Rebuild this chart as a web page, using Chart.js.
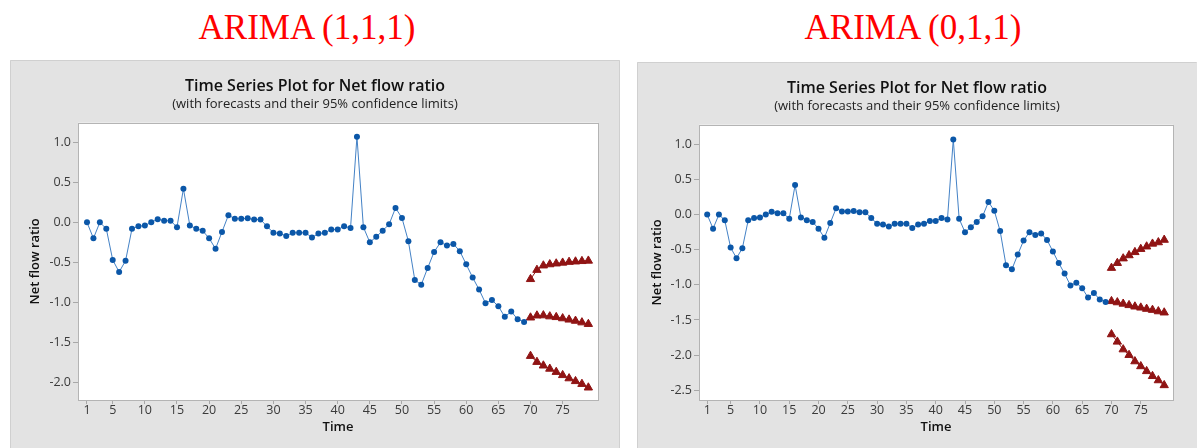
<!DOCTYPE html>
<html>
<head>
<meta charset="utf-8">
<script src="https://cdn.jsdelivr.net/npm/chart.js@4"></script>
<style>
  body { margin: 0; background: #fff; width: 1197px; height: 448px; overflow: hidden; position: relative; }
  .model { position: absolute; top: 10px; height: 40px; font: 35px "Liberation Serif", "Times New Roman", serif; line-height: 35px; color: #ff0000; text-align: center; }
  canvas { position: absolute; }
</style>
</head>
<body>
<div class="model" style="left:0;width:614px">ARIMA (1,1,1)</div>
<div class="model" style="left:637px;width:552px">ARIMA (0,1,1)</div>
<canvas id="chart111" width="610" height="388" style="left:10px;top:60px"></canvas>
<canvas id="chart011" width="560" height="386" style="left:637px;top:62px"></canvas>
<script>
// observed net flow ratio, time 1..69
const netFlow = [
  0.00, -0.20, 0.00, -0.08, -0.47, -0.62, -0.48, -0.08, -0.05, -0.04,
  0.00, 0.04, 0.02, 0.02, -0.06, 0.42, -0.04, -0.08, -0.105, -0.20,
  -0.33, -0.12, 0.09, 0.045, 0.045, 0.05, 0.035, 0.035, -0.05, -0.13,
  -0.14, -0.17, -0.13, -0.13, -0.13, -0.19, -0.14, -0.13, -0.09, -0.09,
  -0.05, -0.07, 1.07, -0.06, -0.25, -0.18, -0.105, -0.025, 0.18, 0.055,
  -0.235, -0.72, -0.78, -0.57, -0.37, -0.25, -0.29, -0.27, -0.36, -0.525,
  -0.69, -0.84, -1.01, -0.97, -1.05, -1.18, -1.115, -1.21, -1.245
];
const obsStart = 1;
const fcStart = 70;

// ARIMA (1,1,1)
const forecast111 = [-1.19, -1.165, -1.163, -1.176, -1.185, -1.2, -1.216, -1.231, -1.251, -1.271];
const upper111 = [-0.71, -0.595, -0.54, -0.525, -0.515, -0.505, -0.495, -0.49, -0.485, -0.48];
const lower111 = [-1.67, -1.745, -1.79, -1.83, -1.87, -1.91, -1.95, -1.985, -2.02, -2.065];

// ARIMA (0,1,1)
const forecast011 = [-1.233, -1.25, -1.27, -1.29, -1.31, -1.325, -1.343, -1.358, -1.378, -1.395];
const upper011 = [-0.76, -0.69, -0.625, -0.58, -0.535, -0.49, -0.455, -0.415, -0.395, -0.36];
const lower011 = [-1.705, -1.81, -1.92, -2.0, -2.09, -2.16, -2.23, -2.30, -2.36, -2.43];

const xTicks = [1, 5, 10, 15, 20, 25, 30, 35, 40, 45, 50, 55, 60, 65, 70, 75];
const yTicks111 = [-2.0, -1.5, -1.0, -0.5, 0.0, 0.5, 1.0];
const yTicks011 = [-2.5, -2.0, -1.5, -1.0, -0.5, 0.0, 0.5, 1.0];

const FONT = "'Open Sans', 'Noto Sans', sans-serif";
const dotBlue = '#0b57a8';
const lineBlue = '#4482c6';
const darkRed = '#901414';

// gray panel, white plot area and its frame
const panelFrame = {
  id: 'panelFrame',
  beforeDraw(chart, args, opts) {
    const { ctx, width, height, chartArea: a } = chart;
    ctx.save();
    ctx.fillStyle = '#e3e3e3';
    ctx.fillRect(0, 0, width, height);
    ctx.strokeStyle = '#d0d0d0';
    ctx.lineWidth = 1;
    ctx.beginPath();
    ctx.moveTo(0.5, height);
    ctx.lineTo(0.5, 0.5);
    ctx.lineTo(width - 0.5, 0.5);
    if (opts.rightEdge) ctx.lineTo(width - 0.5, height);
    ctx.stroke();
    ctx.fillStyle = '#fff';
    ctx.fillRect(a.left, a.top, a.right - a.left, a.bottom - a.top);
    ctx.restore();
  },
  afterDraw(chart) {
    const { ctx, chartArea: a } = chart;
    ctx.save();
    ctx.strokeStyle = '#b4b4b4';
    ctx.lineWidth = 1;
    ctx.strokeRect(Math.round(a.left) + 0.5, Math.round(a.top) + 0.5,
      Math.round(a.right - a.left), Math.round(a.bottom - a.top));
    ctx.restore();
  }
};

function redSeries(label, values) {
  return {
    label: label,
    data: values.map((v, i) => ({ x: fcStart + i, y: v })),
    borderColor: darkRed,
    borderWidth: 1,
    pointStyle: 'triangle',
    pointRadius: 4.8,
    pointBackgroundColor: darkRed,
    pointBorderColor: darkRed,
    pointBorderWidth: 1
  };
}

function makeChart(id, cfg) {
  const ctx = document.getElementById(id).getContext('2d');
  return new Chart(ctx, {
    type: 'line',
    data: {
      datasets: [
        {
          label: 'Net flow ratio',
          data: netFlow.map((v, i) => ({ x: obsStart + i, y: v })),
          borderColor: lineBlue,
          borderWidth: 1,
          pointStyle: 'circle',
          pointRadius: 3,
          pointBackgroundColor: dotBlue,
          pointBorderWidth: 0
        },
        redSeries('Forecast', cfg.forecast),
        redSeries('Upper', cfg.upper),
        redSeries('Lower', cfg.lower)
      ]
    },
    options: {
      responsive: false,
      animation: false,
      events: [],
      layout: { padding: { top: 16.4, right: 0, bottom: 0, left: 0 } },
      scales: {
        x: {
          type: 'linear',
          min: -0.4,
          max: 80.5,
          afterBuildTicks: s => { s.ticks = xTicks.map(v => ({ value: v })); },
          afterFit: s => { s.height = 48; },
          grid: { drawOnChartArea: false, drawTicks: true, tickLength: 4, color: '#a8a8a8' },
          border: { display: false },
          ticks: {
            autoSkip: false, maxRotation: 0, padding: 0, color: '#3a3a3a',
            font: { family: FONT, size: 12.5, lineHeight: 1 },
            callback: v => String(v)
          },
          title: {
            display: true, text: 'Time', color: '#111',
            font: { family: FONT, size: 13, weight: '600' },
            padding: { top: 0, bottom: 13 }
          }
        },
        y: {
          min: cfg.yMin,
          max: cfg.yMax,
          afterBuildTicks: s => { s.ticks = cfg.yTicks.map(v => ({ value: v })); },
          afterFit: s => { s.width = cfg.yAxisWidth; },
          grid: { drawOnChartArea: false, drawTicks: true, tickLength: 5, color: '#a8a8a8' },
          border: { display: false },
          ticks: {
            padding: 2, color: '#3a3a3a',
            font: { family: FONT, size: 12.5 },
            callback: v => v.toFixed(1)
          },
          title: {
            display: true, text: 'Net flow ratio', color: '#111',
            font: { family: FONT, size: 13, weight: '600' },
            padding: { top: cfg.yTitlePad, bottom: 0 }
          }
        },
        yRight: {
          position: 'right',
          afterFit: s => { s.width = cfg.rightPad; },
          grid: { display: false },
          border: { display: false },
          ticks: { display: false }
        }
      },
      plugins: {
        legend: { display: false },
        tooltip: { enabled: false },
        panelFrame: { rightEdge: cfg.rightEdge },
        title: {
          display: true,
          text: 'Time Series Plot for Net flow ratio',
          color: '#111',
          font: { family: FONT, size: 16, weight: '600', lineHeight: 1.2 },
          padding: { top: 0, bottom: 0 }
        },
        subtitle: {
          display: true,
          text: '(with forecasts and their 95% confidence limits)',
          color: '#222',
          font: { family: FONT, size: 13, lineHeight: 1.2 },
          padding: { top: 0.6, bottom: 10.9 }
        }
      }
    },
    plugins: [panelFrame]
  });
}

makeChart('chart111', {
  forecast: forecast111, upper: upper111, lower: lower111,
  yTicks: yTicks111, yMin: -2.22, yMax: 1.245,
  yAxisWidth: 68, rightPad: 22, yTitlePad: 17, rightEdge: true
});

makeChart('chart011', {
  forecast: forecast011, upper: upper011, lower: lower011,
  yTicks: yTicks011, yMin: -2.64, yMax: 1.28,
  yAxisWidth: 62, rightPad: 24, yTitlePad: 12, rightEdge: false
});
</script>
</body>
</html>
